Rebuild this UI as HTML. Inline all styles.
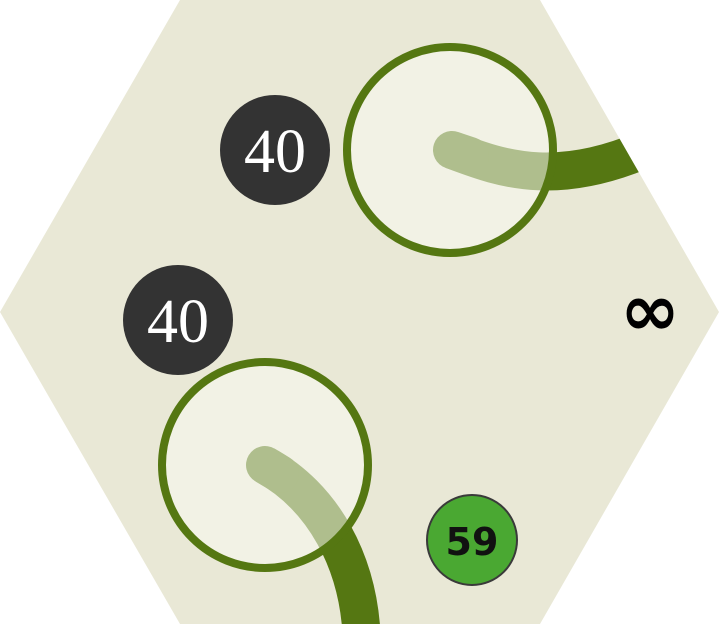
<!DOCTYPE html>
<html><head><meta charset="utf-8"><style>html,body{margin:0;padding:0;background:#fff;}svg{display:block}</style></head>
<body>
<svg width="719" height="624" viewBox="0 0 719 624" xmlns="http://www.w3.org/2000/svg">
  <defs><clipPath id="hc"><polygon points="180,0 540,0 719,312 540,624 180,624 0,312"/></clipPath></defs>
  <polygon points="180,0 540,0 719,312 540,624 180,624 0,312" fill="#e9e8d6"/>
  <g clip-path="url(#hc)">
  <path d="M452,150 C500,168 560,192 665,140" stroke="#557712" stroke-width="38" fill="none"/>
  <path d="M265,465 C320,495 362,560 362,650" stroke="#557712" stroke-width="38" fill="none"/>
  </g>
  <path d="M452,150 L470,156" stroke="#557712" stroke-width="38" stroke-linecap="round"/>
  <path d="M265,465 L280,474" stroke="#557712" stroke-width="38" stroke-linecap="round"/>
  <circle cx="450" cy="150" r="103" fill="#fafaf2" fill-opacity="0.55" stroke="#557712" stroke-width="8"/>
  <circle cx="265" cy="465" r="103" fill="#fafaf2" fill-opacity="0.55" stroke="#557712" stroke-width="8"/>
  <circle cx="275" cy="150" r="55" fill="#333"/>
  <text x="275" y="172" text-anchor="middle" font-family="Liberation Serif, serif" font-size="62" fill="#fff">40</text>
  <circle cx="178" cy="320" r="55" fill="#333"/>
  <text x="178" y="342" text-anchor="middle" font-family="Liberation Serif, serif" font-size="62" fill="#fff">40</text>
  <circle cx="472" cy="540" r="45" fill="#4aa832" stroke="#3a3a3a" stroke-width="2"/>
  <text x="472" y="555" text-anchor="middle" font-family="DejaVu Sans, sans-serif" font-weight="bold" font-size="38" fill="#111">59</text>
  <text x="650" y="335" text-anchor="middle" font-family="DejaVu Sans, sans-serif" font-weight="bold" font-size="72" fill="#000">∞</text>
</svg>
</body></html>
